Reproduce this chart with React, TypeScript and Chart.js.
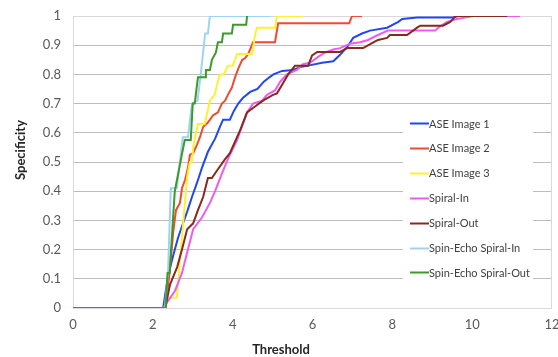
import { useEffect, useRef } from 'react';
import { Chart, registerables } from 'chart.js';

Chart.register(...registerables);

const seriesNames = [
  'ASE Image 1',
  'ASE Image 2',
  'ASE Image 3',
  'Spiral-In',
  'Spiral-Out',
  'Spin-Echo Spiral-In',
  'Spin-Echo Spiral-Out',
];

const seriesColors = ['#2147F2', '#EE4B30', '#FAF232', '#EE5CEE', '#862A1F', '#9FD3F2', '#3C9A28'];

const xTicks = [0, 2, 4, 6, 8, 10, 12];
const yTicks = [0, 0.1, 0.2, 0.3, 0.4, 0.5, 0.6, 0.7, 0.8, 0.9, 1];

const ase1X = [0, 2.26, 2.38, 2.51, 2.63, 2.73, 2.86, 2.98, 3.11, 3.23, 3.38, 3.56, 3.68, 3.76, 3.93, 4.03, 4.14, 4.26, 4.44, 4.62, 4.78, 4.92, 5.02, 5.24, 5.51, 5.69, 5.89, 6.24, 6.52, 6.69, 6.87, 7.02, 7.24, 7.44, 7.87, 8.15, 8.25, 8.62, 9.52, 9.62, 10.83];
const ase1Y = [0, 0, 0.11, 0.18, 0.24, 0.28, 0.33, 0.38, 0.43, 0.48, 0.535, 0.58, 0.62, 0.645, 0.645, 0.675, 0.7, 0.72, 0.74, 0.75, 0.775, 0.79, 0.8, 0.812, 0.815, 0.825, 0.83, 0.84, 0.845, 0.867, 0.894, 0.925, 0.94, 0.95, 0.96, 0.98, 0.99, 0.995, 0.995, 1, 1];

const ase2X = [0, 2.31, 2.42, 2.51, 2.58, 2.68, 2.73, 2.81, 2.88, 2.93, 3.01, 3.11, 3.18, 3.26, 3.38, 3.51, 3.63, 3.73, 3.81, 3.88, 3.98, 4.06, 4.14, 4.24, 4.31, 4.39, 4.51, 5.06, 5.14, 6.92, 6.99, 7.24];
const ase2Y = [0, 0, 0.12, 0.26, 0.335, 0.36, 0.41, 0.44, 0.48, 0.525, 0.53, 0.56, 0.585, 0.62, 0.635, 0.66, 0.67, 0.7, 0.71, 0.73, 0.755, 0.79, 0.82, 0.85, 0.855, 0.87, 0.91, 0.91, 0.975, 0.975, 1, 1];

const ase3X = [0, 2.33, 2.37, 2.6, 2.86, 2.93, 2.98, 3.01, 3.13, 3.3, 3.43, 3.55, 3.6, 3.68, 3.78, 3.88, 4.0, 4.11, 4.49, 4.56, 4.61, 5.06, 5.11, 5.76];
const ase3Y = [0, 0, 0.035, 0.035, 0.45, 0.5, 0.5, 0.55, 0.63, 0.63, 0.71, 0.73, 0.76, 0.8, 0.8, 0.83, 0.83, 0.87, 0.87, 0.935, 0.96, 0.96, 1, 1];

const spiralInX = [0, 2.26, 2.56, 2.73, 2.88, 3.01, 3.23, 3.43, 3.56, 3.73, 3.88, 4.11, 4.36, 4.51, 4.74, 4.86, 5.06, 5.19, 5.36, 5.61, 5.76, 5.94, 6.14, 6.32, 6.52, 6.69, 6.94, 7.19, 7.39, 7.64, 7.89, 9.07, 9.2, 9.37, 9.62, 10.03, 11.2];
const spiralInY = [0, 0, 0.06, 0.12, 0.2, 0.27, 0.31, 0.36, 0.4, 0.46, 0.51, 0.575, 0.67, 0.7, 0.71, 0.73, 0.745, 0.775, 0.8, 0.815, 0.835, 0.84, 0.86, 0.875, 0.885, 0.89, 0.905, 0.91, 0.918, 0.935, 0.95, 0.95, 0.965, 0.98, 0.99, 1, 1];

const spiralOutX = [0, 2.31, 2.43, 2.61, 2.73, 2.86, 3.01, 3.13, 3.26, 3.38, 3.48, 3.63, 3.81, 3.93, 4.19, 4.36, 4.56, 4.76, 5.01, 5.11, 5.26, 5.39, 5.56, 5.89, 5.99, 6.12, 6.69, 6.87, 7.27, 7.49, 7.64, 7.87, 7.94, 8.37, 8.62, 8.7, 9.27, 9.45, 9.57, 9.65, 10.88];
const spiralOutY = [0, 0, 0.08, 0.14, 0.2, 0.27, 0.29, 0.335, 0.38, 0.445, 0.445, 0.475, 0.51, 0.53, 0.61, 0.67, 0.69, 0.71, 0.73, 0.735, 0.77, 0.8, 0.83, 0.83, 0.865, 0.877, 0.877, 0.89, 0.89, 0.907, 0.918, 0.925, 0.935, 0.935, 0.96, 0.967, 0.967, 0.98, 0.997, 1, 1];

const seInX = [0, 2.3, 2.38, 2.45, 2.6, 2.75, 2.88, 2.98, 3.12, 3.2, 3.28, 3.31, 3.38, 3.43, 4.94];
const seInY = [0, 0, 0.12, 0.41, 0.41, 0.585, 0.585, 0.7, 0.71, 0.8, 0.9, 0.94, 0.94, 1, 1];

const seOutX = [0, 2.32, 2.37, 2.42, 2.55, 2.72, 2.8, 2.95, 3.0, 3.05, 3.13, 3.31, 3.33, 3.43, 3.48, 3.58, 3.63, 3.73, 3.76, 3.98, 4.01, 4.34, 4.36];
const seOutY = [0, 0, 0.12, 0.12, 0.4, 0.52, 0.575, 0.575, 0.7, 0.7, 0.79, 0.79, 0.815, 0.815, 0.85, 0.875, 0.91, 0.91, 0.94, 0.94, 0.97, 0.97, 1];

const seriesX = [ase1X, ase2X, ase3X, spiralInX, spiralOutX, seInX, seOutX];
const seriesY = [ase1Y, ase2Y, ase3Y, spiralInY, spiralOutY, seInY, seOutY];

const FONT = 'Lato, "Open Sans", sans-serif';

const overlayPlugin = {
  id: 'overlay',
  beforeDatasetsDraw(chart: any) {
    const { ctx, chartArea } = chart;
    ctx.save();
    ctx.strokeStyle = '#D9D9D9';
    ctx.lineWidth = 1;
    ctx.strokeRect(Math.round(chartArea.left) + 0.5, Math.round(chartArea.top) + 0.5,
      Math.round(chartArea.right - chartArea.left) - 1, Math.round(chartArea.bottom - chartArea.top));
    ctx.restore();
  },
  afterDraw(chart: any) {
    const { ctx } = chart;
    ctx.save();
    // legend box
    ctx.fillStyle = '#FFFFFF';
    ctx.fillRect(403, 110, 130, 182);
    ctx.font = '11px ' + FONT;
    ctx.textBaseline = 'middle';
    ctx.textAlign = 'left';
    chart.data.datasets.forEach((ds: any, i: number) => {
      const y = 123 + i * 24.9;
      ctx.strokeStyle = ds.borderColor;
      ctx.lineWidth = 2;
      ctx.beginPath();
      ctx.moveTo(410, Math.round(y) + 0.5);
      ctx.lineTo(429, Math.round(y) + 0.5);
      ctx.stroke();
      ctx.fillStyle = '#404040';
      ctx.fillText(ds.label, 429, y + 1);
    });
    // axis titles
    ctx.fillStyle = '#262626';
    ctx.font = 'bold 13px ' + FONT;
    ctx.textAlign = 'center';
    ctx.fillText('Threshold', 281, 350);
    ctx.translate(21, 150);
    ctx.rotate(-Math.PI / 2);
    ctx.fillText('Specificity', 0, 0);
    ctx.restore();
  },
};

export default function App() {
  const ref = useRef<HTMLCanvasElement | null>(null);
  useEffect(() => {
    if (!ref.current) return;
    const datasets = seriesNames.map((name, i) => ({
      label: name,
      data: seriesX[i].map((x, j) => ({ x, y: seriesY[i][j] })),
      borderColor: seriesColors[i],
      backgroundColor: seriesColors[i],
      borderWidth: 2,
      pointRadius: 0,
      showLine: true,
      tension: 0,
      fill: false,
      order: seriesNames.length - i,
    }));
    const chart = new Chart(ref.current, {
      type: 'scatter',
      data: { datasets },
      plugins: [overlayPlugin],
      options: {
        responsive: false,
        animation: false,
        layout: { padding: { top: 16, right: 6, left: 0, bottom: 0 } },
        plugins: { legend: { display: false }, tooltip: { enabled: false } },
        scales: {
          x: {
            type: 'linear',
            min: 0,
            max: 12,
            afterBuildTicks: (s: any) => { s.ticks = xTicks.map((v) => ({ value: v })); },
            afterFit: (s: any) => { s.height = 49; s.paddingLeft = 0; s.paddingRight = 0; },
            ticks: { padding: 9, color: '#595959', font: { family: FONT, size: 13 } },
            grid: { display: false, drawTicks: false },
            border: { display: false },
          },
          y: {
            type: 'linear',
            min: 0,
            max: 1,
            afterBuildTicks: (s: any) => { s.ticks = yTicks.map((v) => ({ value: v })); },
            afterFit: (s: any) => { s.width = 73; s.paddingTop = 0; s.paddingBottom = 0; },
            ticks: {
              padding: 12,
              color: '#595959',
              font: { family: FONT, size: 13 },
              callback: (v: any) => String(Math.round(Number(v) * 10) / 10),
            },
            grid: {
              drawTicks: false,
              lineWidth: 1,
              color: (c: any) => (c.tick && (c.tick.value === 0 || c.tick.value === 1) ? '#D9D9D9' : '#BDBDBD'),
            },
            border: { display: false },
          },
        },
      },
    });
    return () => chart.destroy();
  }, []);
  return (
    <div style={{ position: 'absolute', left: 0, top: 0, width: 558, height: 357, background: '#fff' }}>
      <canvas ref={ref} width={558} height={357} style={{ display: 'block' }} />
    </div>
  );
}
